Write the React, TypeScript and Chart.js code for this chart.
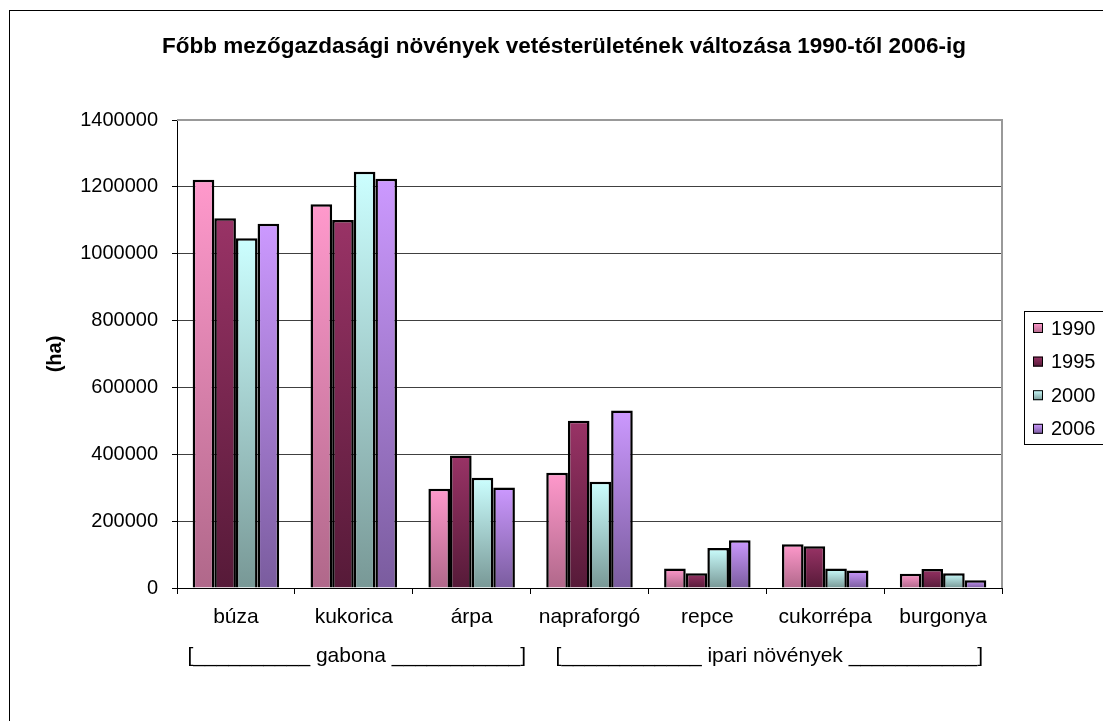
import React, { useEffect, useRef } from 'react';
import { Chart, registerables } from 'chart.js';

Chart.register(...registerables);

const chartTitle = 'Főbb mezőgazdasági növények vetésterületének változása 1990-től 2006-ig';
const yAxisTitle = '(ha)';
const categories = ['búza', 'kukorica', 'árpa', 'napraforgó', 'repce', 'cukorrépa', 'burgonya'];
const seriesNames = ['1990', '1995', '2000', '2006'];
const values1990 = [1221000, 1148000, 297000, 345000, 58000, 131000, 43000];
const values1995 = [1106000, 1101000, 396000, 500000, 44000, 125000, 57000];
const values2000 = [1046000, 1245000, 330000, 318000, 120000, 58000, 44000];
const values2006 = [1090000, 1224000, 301000, 531000, 143000, 52000, 23000];
const yMin = 0;
const yMax = 1400000;
const yStep = 200000;
const groupLabels = ['[__________ gabona ___________]', '[____________ ipari növények ___________]'];
const groupFirst = [0, 3];
const groupLast = [2, 6];

const FONT = '"Liberation Sans", Arial, Helvetica, sans-serif';

const seriesColors = [
  { top: '#FF99CC', bottom: '#B0688A' },
  { top: '#993366', bottom: '#561A38' },
  { top: '#CCFFFF', bottom: '#789896' },
  { top: '#CC99FF', bottom: '#7A5C9E' },
];

function barGradient(idx: number) {
  return (ctx: any) => {
    const chart = ctx.chart;
    const c = seriesColors[idx];
    if (!chart.chartArea || ctx.type !== 'data') return c.top;
    const y = chart.scales.y;
    const v = ctx.parsed ? ctx.parsed.y : ctx.raw;
    const yTop = y.getPixelForValue(v);
    const yBase = y.getPixelForValue(0);
    if (!isFinite(yTop) || !isFinite(yBase) || Math.abs(yBase - yTop) < 1) return c.top;
    const g = chart.ctx.createLinearGradient(0, yTop, 0, yBase);
    g.addColorStop(0, c.top);
    g.addColorStop(1, c.bottom);
    return g;
  };
}

const decorPlugin = {
  id: 'decor',
  beforeDraw(chart: any) {
    const { ctx } = chart;
    ctx.save();
    ctx.fillStyle = '#ffffff';
    ctx.fillRect(0, 0, chart.width, chart.height);
    ctx.strokeStyle = '#000000';
    ctx.lineWidth = 1;
    ctx.strokeRect(9.5, 10.5, chart.width + 20, chart.height + 20);
    ctx.restore();
  },
  afterDraw(chart: any) {
    const { ctx, chartArea, scales } = chart;
    ctx.save();
    // plot frame top / right
    ctx.strokeStyle = '#999999';
    ctx.lineWidth = 2;
    ctx.beginPath();
    ctx.moveTo(chartArea.left, chartArea.top);
    ctx.lineTo(chartArea.right, chartArea.top);
    ctx.lineTo(chartArea.right, chartArea.bottom);
    ctx.stroke();

    // title
    ctx.fillStyle = '#000000';
    ctx.font = `bold 22.5px ${FONT}`;
    ctx.textAlign = 'center';
    ctx.textBaseline = 'middle';
    ctx.fillText(chartTitle, 564, 47);

    // group labels
    ctx.font = `21px ${FONT}`;
    const x = scales.x;
    groupLabels.forEach((lbl, i) => {
      const cx = (x.getPixelForValue(groupFirst[i]) + x.getPixelForValue(groupLast[i])) / 2;
      ctx.fillText(lbl, cx + 3, chartArea.bottom + 68);
    });

    // legend
    ctx.strokeStyle = '#000000';
    ctx.lineWidth = 1;
    ctx.strokeRect(1024.5, 311.5, 100, 133);
    ctx.font = `20px ${FONT}`;
    ctx.textAlign = 'left';
    seriesNames.forEach((name, i) => {
      const cy = 328 + i * 33.6;
      const c = seriesColors[i];
      const g = ctx.createLinearGradient(0, cy - 5, 0, cy + 5);
      g.addColorStop(0, c.top);
      g.addColorStop(1, c.bottom);
      ctx.fillStyle = g;
      ctx.fillRect(1033, cy - 5, 10, 10);
      ctx.strokeRect(1033.5, cy - 4.5, 9, 9);
      ctx.fillStyle = '#000000';
      ctx.fillText(name, 1051, cy + 1);
    });
    ctx.restore();
  },
};

export default function App() {
  const canvasRef = useRef<HTMLCanvasElement | null>(null);

  useEffect(() => {
    if (!canvasRef.current) return;
    const seriesValues = [values1990, values1995, values2000, values2006];
    const chart = new Chart(canvasRef.current, {
      type: 'bar',
      data: {
        labels: categories,
        datasets: seriesNames.map((name, i) => ({
          label: name,
          data: seriesValues[i],
          backgroundColor: barGradient(i),
          borderColor: '#000000',
          borderWidth: 2.5,
          categoryPercentage: 0.734,
          barPercentage: 1.0,
        })),
      },
      options: {
        animation: false,
        responsive: true,
        maintainAspectRatio: false,
        devicePixelRatio: 1,
        layout: { padding: { top: 120, right: 101, bottom: 0, left: 0 } },
        plugins: {
          legend: { display: false },
          title: { display: false },
          tooltip: { enabled: false },
        },
        scales: {
          x: {
            grid: {
              display: true,
              drawOnChartArea: false,
              drawTicks: true,
              tickLength: 6,
              offset: true,
              color: '#000000',
            },
            border: { display: true, color: '#000000', width: 1 },
            ticks: {
              color: '#000000',
              font: { family: FONT, size: 21 },
              padding: 11,
              maxRotation: 0,
              autoSkip: false,
            },
            afterFit: (scale: any) => {
              scale.height = 133;
            },
          },
          y: {
            min: yMin,
            max: yMax,
            grid: {
              color: (ctx: any) => (ctx.tick && ctx.tick.value === yMax ? '#999999' : '#404040'),
              lineWidth: 1,
              tickLength: 5,
              tickColor: '#000000',
            },
            border: { display: true, color: '#000000', width: 1 },
            ticks: {
              stepSize: yStep,
              color: '#000000',
              font: { family: FONT, size: 20 },
              padding: 14,
              callback: (v: any) => String(v),
            },
            title: {
              display: true,
              text: yAxisTitle,
              color: '#000000',
              font: { family: FONT, size: 20, weight: 'bold' },
              padding: { top: 43, bottom: 0 },
            },
            afterFit: (scale: any) => {
              scale.width = 177;
            },
          },
        },
      },
      plugins: [decorPlugin],
    });
    return () => chart.destroy();
  }, []);

  return (
    <div style={{ position: 'fixed', left: 0, top: 0, width: 1103, height: 721, background: '#fff' }}>
      <canvas ref={canvasRef} />
    </div>
  );
}
